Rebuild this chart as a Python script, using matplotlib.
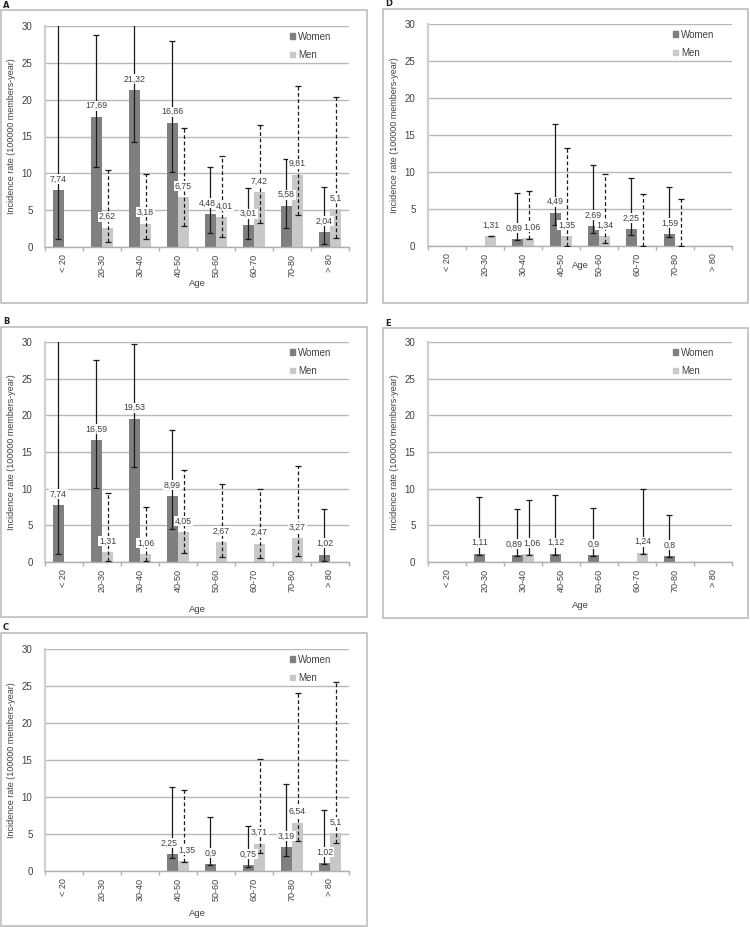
import numpy as np
import matplotlib
matplotlib.use("Agg")
import matplotlib.pyplot as plt
from matplotlib import font_manager
from matplotlib.patches import Rectangle, Patch

names = {f.name for f in font_manager.fontManager.ttflist}
FONT = ['Liberation Sans Narrow', 'DejaVu Sans'] if 'Liberation Sans Narrow' in names else ['Liberation Sans', 'DejaVu Sans']
plt.rcParams['font.family'] = FONT

categories = ['< 20', '20-30', '30-40', '40-50', '50-60', '60-70', '70-80', '> 80']
N = np.nan

# Panel A
A_women = [7.74, 17.69, 21.32, 16.86, 4.48, 3.01, 5.58, 2.04]
A_women_lo = [1.15, 10.85, 14.3, 10.2, 1.95, 1.1, 2.6, 0.4]
A_women_hi = [32, 28.8, 32, 27.9, 10.85, 8.0, 11.9, 8.1]
A_men = [0, 2.62, 3.18, 6.75, 4.01, 7.42, 9.81, 5.1]
A_men_lo = [N, 0.7, 1.05, 2.8, 1.35, 3.3, 4.4, 1.2]
A_men_hi = [N, 10.5, 9.85, 16.2, 12.4, 16.5, 21.8, 20.4]

# Panel B
B_women = [7.74, 16.59, 19.53, 8.99, 0, 0, 0, 1.02]
B_women_lo = [1.1, 10.05, 12.9, 4.5, N, N, N, 0.1]
B_women_hi = [32, 27.5, 29.7, 18.0, N, N, N, 7.2]
B_men = [0, 1.31, 1.06, 4.05, 2.67, 2.47, 3.27, 0]
B_men_lo = [N, 0.1, 0.1, 1.25, 0.65, 0.6, 0.8, N]
B_men_hi = [N, 9.35, 7.5, 12.55, 10.7, 9.9, 13.1, N]

# Panel C
C_women = [0, 0, 0, 2.25, 0.9, 0.75, 3.19, 1.02]
C_women_lo = [N, N, N, 1.8, 0.8, 0.5, 2.0, 0.9]
C_women_hi = [N, N, N, 11.3, 7.3, 6.1, 11.7, 8.3]
C_men = [0, 0, 0, 1.35, 0, 3.71, 6.54, 5.1]
C_men_lo = [N, N, N, 1.2, N, 2.5, 4.1, 3.8]
C_men_hi = [N, N, N, 11.0, N, 15.2, 24.0, 25.5]

# Panel D
D_women = [0, 0, 0.89, 4.49, 2.69, 2.25, 1.59, 0]
D_women_lo = [N, N, 0.8, 2.8, 1.75, 1.5, 1.2, N]
D_women_hi = [N, N, 7.2, 16.5, 11.0, 9.2, 8.0, N]
D_men = [0, 1.31, 1.06, 1.35, 1.34, 0, 0, 0]
D_men_lo = [N, 1.3, 1.0, 0.0, 0.4, 0.0, 0.0, N]
D_men_hi = [N, 1.4, 7.4, 13.3, 9.7, 7.0, 6.4, N]

# Panel E
E_women = [0, 1.11, 0.89, 1.12, 0.9, 0, 0.8, 0]
E_women_lo = [N, 1.0, 0.85, 1.0, 0.85, N, 0.7, N]
E_women_hi = [N, 8.9, 7.2, 9.1, 7.3, N, 6.4, N]
E_men = [0, 0, 1.06, 0, 0, 1.24, 0, 0]
E_men_lo = [N, N, 0.9, N, N, 1.05, N, N]
E_men_hi = [N, N, 8.5, N, N, 10.0, N, N]

series_names = ['Women', 'Men']

W_COL = '#7f7f7f'
M_COL = '#c8c8c8'
TXT = '#404040'
GRID = '#b8b8b8'
FRAME = '#bdbdbd'

W, H = 750, 927
fig = plt.figure(figsize=(W / 100, H / 100), dpi=100)


def fbox(x0, y0, x1, y1):
    return [x0 / W, 1 - y1 / H, (x1 - x0) / W, (y1 - y0) / H]


panels = [
    ('A', (1, 10, 367, 303), (45, 26, 349, 247), 283,
     A_women, A_women_lo, A_women_hi, A_men, A_men_lo, A_men_hi, True),
    ('B', (1, 327, 367, 617), (45, 342, 349, 562), 609,
     B_women, B_women_lo, B_women_hi, B_men, B_men_lo, B_men_hi, True),
    ('C', (1, 633, 367, 926), (45, 649, 349, 871), 913,
     C_women, C_women_lo, C_women_hi, C_men, C_men_lo, C_men_hi, True),
    ('D', (383, 9, 748, 303), (428, 24, 732, 246), 265,
     D_women, D_women_lo, D_women_hi, D_men, D_men_lo, D_men_hi, True),
    ('E', (383, 328, 748, 618), (428, 342, 732, 562), 605,
     E_women, E_women_lo, E_women_hi, E_men, E_men_lo, E_men_hi, False),
]

bw = 0.29
x = np.arange(len(categories))

for (letter, frame, axbox, agey, wv, wlo, whi, mv, mlo, mhi, men_dashed) in panels:
    fx0, fy0, fx1, fy1 = frame
    fig.patches.append(Rectangle((fx0 / W, 1 - fy1 / H), (fx1 - fx0) / W, (fy1 - fy0) / H,
                                 transform=fig.transFigure, fill=False,
                                 edgecolor=FRAME, linewidth=1.2))
    fig.text((fx0 + 2) / W, 1 - (fy0 - 5) / H, letter, fontsize=6, fontweight='bold',
             ha='left', va='center', color='#222222', family=['DejaVu Sans'])

    ax = fig.add_axes(fbox(*axbox))
    ax.set_xlim(-0.5, len(categories) - 0.5)
    ax.set_ylim(0, 30)
    ax.set_yticks([0, 5, 10, 15, 20, 25, 30])
    ax.yaxis.grid(True, color=GRID, linewidth=1.0, zorder=0)
    ax.set_axisbelow(True)
    for s in ['top', 'right']:
        ax.spines[s].set_visible(False)
    ax.spines['left'].set_color('#d0d0d0')
    ax.spines['left'].set_linewidth(1.6)
    ax.spines['bottom'].set_color('#b0b0b0')
    ax.spines['bottom'].set_linewidth(1.0)
    ax.tick_params(axis='y', length=0, labelsize=7, labelcolor=TXT, pad=9)
    ax.set_xticks(x)
    ax.set_xticklabels(categories, rotation=90, fontsize=6.5, color=TXT)
    ax.tick_params(axis='x', which='major', length=0, pad=5)
    ax.set_xticks(np.arange(-0.5, len(categories), 1.0), minor=True)
    ax.tick_params(axis='x', which='minor', length=3, color='#b0b0b0', width=1)

    wv = np.array(wv, float)
    mv = np.array(mv, float)
    ax.bar(x - bw / 2, wv, bw, color=W_COL, zorder=2)
    ax.bar(x + bw / 2, mv, bw, color=M_COL, zorder=2)

    # labels of the two bars in one group that would collide are nudged apart
    close = (wv > 0) & (mv > 0) & (np.abs(wv - mv) < 1.2)

    for vals, lo, hi, off, dashed, sign in [(wv, wlo, whi, -bw / 2, False, -1),
                                            (mv, mlo, mhi, bw / 2, men_dashed, 1)]:
        lo = np.array(lo, float)
        hi = np.array(hi, float)
        ok = ~np.isnan(lo)
        if ok.any():
            eb = ax.errorbar(x[ok] + off, vals[ok],
                             yerr=[vals[ok] - lo[ok], hi[ok] - vals[ok]],
                             fmt='none', ecolor='#1a1a1a', elinewidth=0.9,
                             capsize=2.0, capthick=0.9, zorder=3)
            if dashed:
                for lc in eb.lines[2]:
                    lc.set_linestyle((0, (3, 2)))
        for i, (xi, v) in enumerate(zip(x, vals)):
            if v > 0:
                dx = 2.3 * sign if close[i] else 0
                ax.annotate(('%g' % v).replace('.', ','), (xi + off, v),
                            xytext=(dx, 8), textcoords='offset points',
                            ha='center', va='center', fontsize=6.3, color=TXT,
                            zorder=5,
                            bbox=dict(facecolor='white', edgecolor='none', pad=0.4))

    ax.set_ylabel('Incidence rate (100000 members-year)', fontsize=6.5, color=TXT, labelpad=4)
    fig.text(((axbox[0] + axbox[2]) / 2) / W, 1 - agey / H, 'Age', fontsize=6.8,
             color=TXT, ha='center', va='center')

    handles = [Patch(color=W_COL), Patch(color=M_COL)]
    ax.legend(handles, series_names, loc='upper left', bbox_to_anchor=(0.805, 0.975),
              frameon=False, fontsize=7, labelcolor=TXT, handlelength=0.5,
              handleheight=0.5, handletextpad=0.35, labelspacing=0.85,
              borderaxespad=0, borderpad=0)

fig.savefig('out.png', dpi=100)
